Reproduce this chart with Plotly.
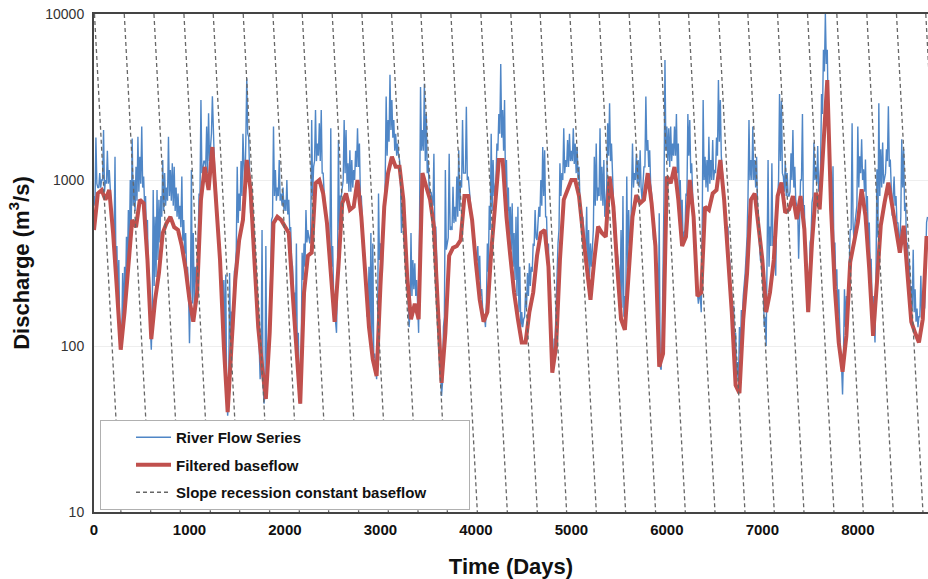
import plotly.graph_objects as go

# ---------------- data ----------------
# River flow series: spike/upper readings every 20 days starting at day 0 (m3/s)
river_step_days = 20
river_flow_peaks = [
    800, 1800, 900, 1100, 1000, 2000, 1000, 1500, 1150, 700,
    575, 1380, 400, 330, 120, 275, 300, 455, 660, 1000,
    1780, 1000, 1200, 1820, 1380, 2100, 1050, 800, 575, 260,
    95, 870, 600, 870, 760, 800, 1320, 1100, 900, 1820,
    1150, 1260, 1200, 900, 830, 700, 1050, 575, 480, 300,
    104, 1150, 480, 300, 210, 830, 3030, 1150, 1300, 2100,
    2520, 1510, 3200, 1320, 900, 480, 300, 210, 250, 270,
    38, 275, 160, 125, 300, 1200, 830, 1300, 1900, 830,
    4100, 1820, 630, 450, 330, 200, 160, 63, 500,
    45, 400, 80, 150, 575, 2100, 1150, 900, 1320, 830,
    900, 760, 1000, 760, 520, 300, 210, 415, 120, 45,
    365, 415, 660, 500, 415, 2300, 1200, 2640, 1660, 2200,
    2640, 1100, 700, 525, 365, 2050, 400, 200, 120, 1740,
    800, 900, 2300, 2000, 1260, 1510, 1320, 1150, 1500, 2050,
    1660, 800, 400, 300, 150, 300, 480, 415, 90, 63,
    830, 415, 275, 575, 3180, 2300, 4300, 3030, 2300, 1900,
    1660, 1320, 480, 525, 330, 250, 130, 480, 330, 315,
    250, 120, 3630, 2000, 3800, 2500, 1320, 830, 725,
    1440, 525, 210, 145, 50, 130, 1150, 415, 1440, 525,
    910, 690, 1050, 1510, 1000, 2300, 1100, 2760, 1050, 760,
    600, 480, 330, 400, 350, 220, 145, 130, 415, 700,
    1900, 1320, 955, 1660, 2500, 5000, 2640, 3030, 1320, 900,
    690, 725, 480, 600, 690, 300, 160, 145, 210, 275,
    315, 300, 415, 660, 435, 690, 1000, 1580, 1510, 600,
    415, 145, 83, 110, 200, 415, 1260, 1100, 2050, 1320,
    1740, 1900, 1500, 2050, 1660, 1580, 1200, 630, 600, 415,
    690, 500, 415, 420, 1380, 1660, 900, 2050, 1200,
    1320, 725, 2200, 2900, 1660, 760, 575, 380, 275, 500,
    800, 200, 1050, 660, 415, 1660, 1100, 1440, 1320, 1510,
    760, 1200, 3180, 1740, 1510, 830, 435, 400, 315, 630,
    72, 260, 5280, 2100, 2050, 2100, 1660, 2100, 2500, 1660,
    1000, 760, 480, 830, 2500, 2300, 1260, 525, 330, 210,
    200, 160, 3030, 1380, 1320, 1820, 1320, 1740, 1150, 1800,
    4000, 3030, 1200, 760, 600, 525, 330, 210, 175, 120,
    80, 130, 165, 200, 275, 455, 2300, 1320, 2100, 1320,
    1380, 525, 330, 250, 130, 100, 1320, 525, 1260,
    460, 265, 800, 3300, 3000, 1050, 1300, 1100, 800, 1450,
    2000, 1200, 700, 335, 1000, 2500, 700, 420, 185, 420,
    730, 1680, 1200, 1600, 920, 3300, 6100, 10000, 6100, 1450,
    800, 1210, 420, 290, 220, 80, 51, 220, 200, 185,
    505, 2200, 420, 610, 2100, 1390, 1760, 1160, 1330, 800,
    555, 335, 200, 105, 1160, 2900, 1530, 1680, 1050, 1530,
    2780, 1330, 610, 1050, 800, 555, 420, 1760, 1530, 730,
    420, 320, 230, 380, 220, 168, 150, 265, 168, 168, 555,
]

# River flow series: lower readings between the spikes, days 10, 30, 50, ... (m3/s)
river_flow_dips = [
    700, 950, 900, 900, 1000, 850, 950, 950, 800, 560,
    420, 280, 180, 110, 110, 140, 200, 300, 380, 520,
    700, 650, 750, 850, 950, 900, 700, 420, 230, 130,
    150, 230, 260, 330, 420, 600, 650, 700, 750, 800,
    750, 700, 650, 600, 580, 520, 430, 360, 280, 220,
    200, 180, 170, 250, 400, 800, 1100, 1300, 1200, 1100,
    1300, 1900, 1700, 1000, 600, 380, 250, 150, 90, 50,
    48, 110, 160, 280, 380, 550, 650, 800, 1100, 1700,
    1900, 1100, 700, 420, 260, 170, 110, 80, 65,
    50, 60, 110, 250, 600, 800, 750, 800, 750, 700,
    650, 650, 620, 500, 330, 200, 130, 80, 50, 90,
    250, 300, 420, 450, 480, 800, 1300, 1300, 1400, 1300,
    1100, 850, 650, 450, 350, 300, 200, 140, 250, 500,
    800, 1000, 1100, 950, 850, 850, 900, 1000, 1200, 1200,
    800, 550, 380, 250, 160, 120, 100, 85, 70, 120,
    330, 320, 600, 1000, 1400, 1700, 2000, 1800, 1500, 1400,
    1400, 1000, 700, 450, 300, 200, 160, 200, 220, 200,
    150, 600, 1500, 1500, 1300, 1100, 900, 850, 700,
    450, 250, 130, 70, 60, 150, 380, 450, 500, 500,
    550, 560, 600, 650, 900, 1100, 1100, 1000, 850, 650,
    480, 380, 330, 250, 200, 170, 150, 180, 280, 500,
    650, 800, 1000, 1500, 1900, 1800, 1500, 900, 650, 450,
    380, 300, 250, 200, 160, 130, 130, 150, 170, 200,
    230, 280, 400, 450, 520, 600, 700, 800, 600, 350,
    180, 85, 75, 110, 230, 500, 800, 1000, 1100, 1200,
    1200, 1300, 1300, 1250, 1100, 1000, 750, 550, 450, 380,
    300, 260, 300, 500, 700, 750, 800, 750, 700,
    600, 900, 1400, 1300, 900, 650, 420, 320, 200, 170,
    150, 180, 300, 400, 700, 900, 1000, 950, 900, 900,
    950, 1200, 1500, 1200, 950, 600, 450, 250, 110, 75,
    110, 800, 1500, 1300, 1200, 1300, 1400, 1400, 1100, 800,
    550, 420, 500, 800, 1400, 1100, 750, 450, 250, 180,
    200, 500, 1000, 900, 850, 950, 1000, 1000, 1100, 1400,
    1700, 1400, 950, 600, 420, 300, 200, 130, 85, 65,
    60, 90, 150, 230, 350, 800, 1000, 1000, 1000, 900,
    650, 450, 330, 230, 150, 300, 300, 400, 400,
    350, 600, 1000, 1300, 1100, 850, 800, 800, 850, 1000,
    900, 750, 700, 800, 1000, 700, 350, 200, 220, 450,
    800, 1000, 950, 850, 1200, 2500, 4500, 5000, 2500, 1000,
    600, 350, 230, 150, 100, 75, 90, 130, 180, 300,
    500, 550, 550, 700, 900, 1100, 1000, 850, 650, 420,
    300, 170, 130, 250, 450, 800, 900, 950, 1100, 1300,
    1200, 900, 800, 700, 550, 450, 600, 900, 650, 400,
    280, 200, 170, 160, 140, 130, 150, 150, 170, 300, 600,
]

# Filtered baseflow, sampled every 40 days starting at day 0 (m3/s)
baseflow_step_days = 40
baseflow = [
    500, 830, 870, 760, 870, 480, 220, 95, 160, 300,
    575, 520, 760, 725, 330, 110, 190, 275, 480, 550,
    600, 520, 500, 400, 290, 190, 140, 210, 760, 1200,
    870, 1580, 760, 330, 100, 40, 100, 250, 435, 575,
    1320, 870, 330, 130, 76,
    48, 120, 550, 600, 575, 525, 480, 210, 100, 45,
    210, 350, 365, 955, 1000, 830, 550, 275, 140, 300,
    725, 830, 660, 690, 1000, 600, 300, 130, 83, 66,
    230, 690, 1100, 1380, 1200, 1200, 760, 260, 145, 180,
    145, 1100, 910, 760,
    525, 180, 60, 120, 350, 390, 400, 435, 800, 800,
    575, 315, 190, 140, 160, 365, 660, 1320, 1320, 600,
    350, 210, 145, 105, 105, 160, 210, 350, 480, 500,
    300, 69, 100, 330, 760, 870, 1000, 1000, 800, 480,
    315, 190, 330, 525, 480,
    455, 1050, 690, 300, 145, 125, 260, 600, 810, 725,
    760, 1100, 725, 400, 75, 90, 1050, 955, 1200, 760,
    400, 455, 1000, 600, 200, 210, 690, 660, 830, 870,
    1320, 760, 350, 160, 58, 52, 145, 275, 760, 830,
    525, 330, 160, 210, 330,
    800, 965, 635, 665, 800, 580, 800, 505, 160, 420,
    840, 665, 1530, 4000, 665, 220, 105, 70, 115, 320,
    420, 555, 880, 610, 290, 115, 240, 530, 730, 965,
    700, 505, 365, 530, 265, 140, 120, 105, 145, 460,
]

# Slope recession constant lines: day at which each line leaves 10000 m3/s,
# and the number of days it takes to fall to 10 m3/s
recession_start_days = [
    5, 317, 628, 942, 1249, 1563, 1874, 2181, 2495, 2806,
    3117, 3424, 3738, 4052, 4366, 4673, 4984, 5291, 5605, 5916,
    6227, 6541, 6848, 7159, 7473, 7780, 8094, 8405, 8712,
]
recession_span_days = 277
recession_top = 10000
recession_bottom = 10

x_ticks = [0, 1000, 2000, 3000, 4000, 5000, 6000, 7000, 8000]
y_ticks = [10, 100, 1000, 10000]

# ---------------- figure ----------------
half = river_step_days // 2
river_days, river_flow = [], []
for i, (p, d) in enumerate(zip(river_flow_peaks, river_flow_dips)):
    river_days += [i * river_step_days, i * river_step_days + half]
    river_flow += [p, d]

base_days = [i * baseflow_step_days for i in range(len(baseflow))]

rx, ry = [], []
for s in recession_start_days:
    rx += [s, s + recession_span_days, None]
    ry += [recession_top, recession_bottom, None]

fig = go.Figure()
fig.add_trace(go.Scatter(
    x=river_days, y=river_flow, mode="lines", name="River Flow Series",
    line=dict(color="#4F86C6", width=1.4), legendgroup="a",
))
fig.add_trace(go.Scatter(
    x=base_days, y=baseflow, mode="lines", name="Filtered baseflow",
    line=dict(color="#C0504D", width=4), legendgroup="b",
))
fig.add_trace(go.Scatter(
    x=rx, y=ry, mode="lines",
    name="Slope recession constant baseflow" + "\u00a0" * 9,
    line=dict(color="#666666", width=1.3, dash="4px,3px"), legendgroup="c",
    connectgaps=False,
))

font_family = "Liberation Sans, Arial, sans-serif"
fig.update_layout(
    width=928, height=579,
    margin=dict(l=94, r=0, t=14, b=67),
    paper_bgcolor="white", plot_bgcolor="white",
    font=dict(family=font_family, color="#222"),
    showlegend=True,
    legend=dict(
        x=0.0072, y=0.1847, xanchor="left", yanchor="top",
        bgcolor="white", bordercolor="#b0b0b0", borderwidth=1,
        font=dict(family=font_family, size=15, color="#111", weight="bold"),
        traceorder="grouped", tracegroupgap=5,
        indentation=30, itemwidth=35,
    ),
    xaxis=dict(
        range=[0, 8735], tickvals=x_ticks,
        ticktext=[str(v) for v in x_ticks],
        showgrid=False, zeroline=False, automargin=False,
        showline=True, linecolor="#444", linewidth=2, mirror=True,
        ticks="outside", ticklen=3, tickcolor="rgba(0,0,0,0)",
        tickfont=dict(size=15, color="#111", weight="bold"),
        title=dict(text="<b>Time (Days)</b>", font=dict(size=22, color="#111"),
                   standoff=22),
    ),
    yaxis=dict(
        type="log", range=[1, 4], tickvals=y_ticks,
        ticktext=[str(v) for v in y_ticks],
        showgrid=True, gridcolor="#eeeeee", gridwidth=1, zeroline=False,
        automargin=False, ticklabeloverflow="allow",
        showline=True, linecolor="#444", linewidth=2,
        ticks="outside", ticklen=5, tickcolor="rgba(0,0,0,0)",
        tickfont=dict(size=14, color="#333"),
        title=dict(text="<b>Discharge (m<sup>3</sup>/s)</b>",
                   font=dict(size=22, color="#111"), standoff=10),
    ),
)

# remove the browser's default 8px page margin so the figure fills the window
fig.write_html(
    "out.html",
    config={"displayModeBar": False},
    post_script="document.body.style.margin='0';document.body.style.overflow='hidden';",
)
